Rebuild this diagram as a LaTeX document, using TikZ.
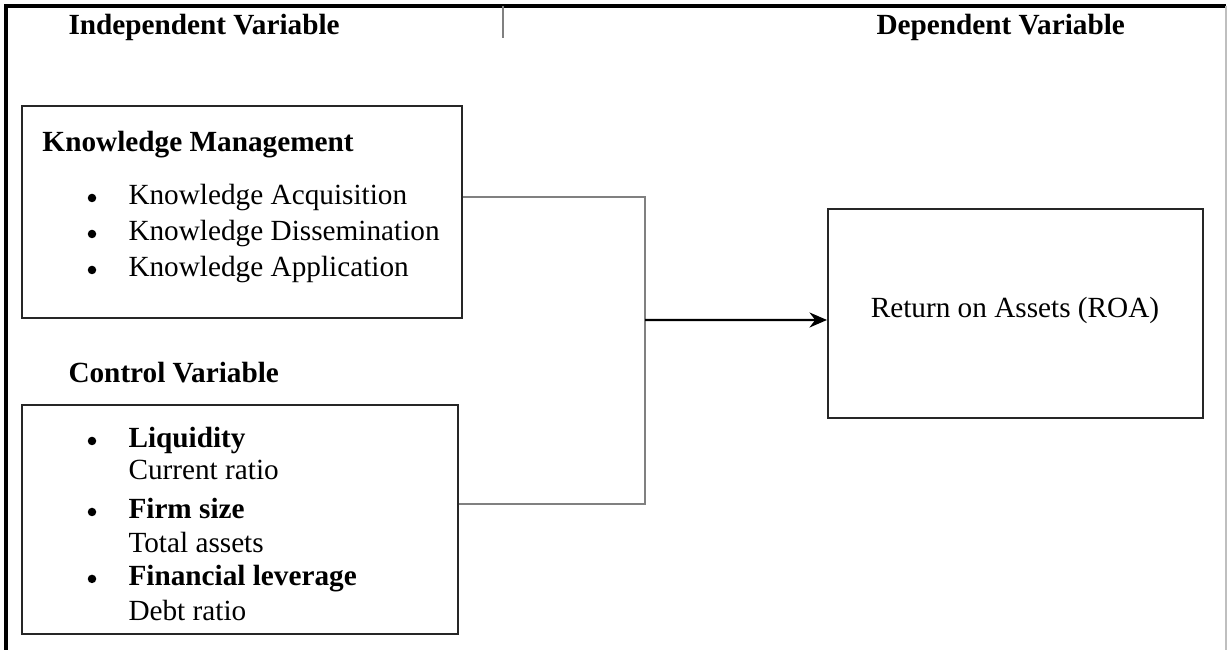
\documentclass[tikz,border=0pt]{standalone}
\usepackage{fontspec}
\setmainfont{Liberation Serif}
\usetikzlibrary{fit,arrows.meta}

\begin{document}
\begin{tikzpicture}[
        x=0.4pt, y=-0.4pt,
        every node/.append style={inner sep=0pt, font=\fontsize{11.7}{14}\selectfont},
        box/.style={draw=black!85, line width=0.8pt, inner sep=0pt},
        conn/.style={draw=black!50, line width=0.6pt},
        arr/.style={line width=0.9pt, -{Stealth[length=7pt,width=6pt]}},
        head/.style={anchor=west, font=\fontsize{11.7}{14}\selectfont\bfseries},
        dot/.style={circle, fill=black, minimum size=3.4pt}
    ]
        \useasboundingbox (0,0) rectangle (1228,650);

        % frame
        \draw[line width=1.3pt] (6,650) -- (6,6) -- (1226,6);
        \draw[black!25, line width=0.6pt] (1226,6) -- (1226,650);
        \draw[black!50, line width=0.6pt] (503,6) -- (503,38);

        \node[head] (indep) at (68,27) {Independent Variable};
        \node[head] (dep) at (876,27) {Dependent Variable};

        % knowledge management
        \node[box, fit={(22,106) (462,318)}] (km) {};
        \node[head] (kmhead) at (42,145) {Knowledge Management};
        \foreach \txt/\y [count=\i] in {Knowledge Acquisition/198, Knowledge Dissemination/234, Knowledge Application/270} {
            \node[anchor=west] (kmitem\i) at (128,\y) {\txt};
            \node[dot] (kmdot\i) at ([xshift=-14.4pt, yshift=2.8pt]kmitem\i.base west) {};
        }

        % control variables
        \node[head] (cvhead) at (68,373) {Control Variable};
        \node[box, fit={(22,405) (458,634)}] (cv) {};
        \foreach \txt/\y/\sub/\ys [count=\i] in {Liquidity/441/Current ratio/470, Firm size/509/Total assets/543, Financial leverage/579/Debt ratio/611} {
            \node[anchor=west, font=\fontsize{11.7}{14}\selectfont\bfseries] (cvitem\i) at (128,\y) {\txt};
            \node[anchor=west] (cvsub\i) at (128,\ys) {\sub};
            \node[dot] (cvdot\i) at ([xshift=-14.4pt, yshift=2.8pt]cvitem\i.base west) {};
        }

        % outcome
        \node[box, fit={(828,209) (1203,418)}] (roa) {};
        \node (roatext) at (1015,310) {Return on Assets (ROA)};

        \coordinate (jn) at (645,320);
        \draw[conn] ([yshift=6pt]km.east) -| (jn) |- ([yshift=6.2pt]cv.east);
        \draw[arr] (jn) -- ([yshift=-2.6pt]roa.west);
    \end{tikzpicture}
\end{document}
